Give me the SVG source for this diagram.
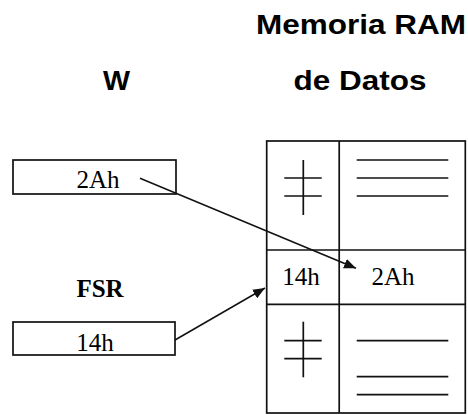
<svg xmlns="http://www.w3.org/2000/svg" width="468" height="415" viewBox="0 0 468 415">
  <style>
    .box { fill: #fff; stroke: #111; stroke-width: 1.7; }
    .rule { stroke: #111; stroke-width: 1.7; fill: none; }
    .head { font-family: "Liberation Sans", Arial, sans-serif; font-weight: bold; font-size: 27px; fill: #000; text-anchor: middle; }
    .reg { font-family: "Liberation Serif", "Times New Roman", serif; font-weight: bold; font-size: 25px; fill: #000; text-anchor: middle; }
    .val { font-family: "Liberation Serif", "Times New Roman", serif; font-size: 25px; fill: #000; text-anchor: middle; }
    .link { stroke: #111; stroke-width: 1.5; fill: none; marker-end: url(#head); }
  </style>
  <defs>
    <marker id="head" viewBox="0 0 12 10" refX="12" refY="5" markerWidth="12" markerHeight="10" markerUnits="userSpaceOnUse" orient="auto">
      <path d="M0,0 L12,5 L0,10 Z" fill="#111"/>
    </marker>
  </defs>
  <rect width="468" height="415" fill="#fff"/>

  <!-- headings -->
  <g id="titles">
    <text class="head" x="361" y="34" textLength="210" lengthAdjust="spacingAndGlyphs">Memoria RAM</text>
    <text class="head" x="360" y="90" textLength="133" lengthAdjust="spacingAndGlyphs">de Datos</text>
    <text class="head" x="116.5" y="90" textLength="27" lengthAdjust="spacingAndGlyphs">W</text>
  </g>

  <!-- W register -->
  <g id="w-reg">
    <rect class="box" x="13" y="160" width="163" height="34"/>
    <text class="val" x="98" y="187.5">2Ah</text>
  </g>

  <!-- FSR register -->
  <g id="fsr-reg">
    <text class="reg" x="100" y="297">FSR</text>
    <rect class="box" x="13" y="322" width="162" height="33"/>
    <text class="val" x="95" y="351">14h</text>
  </g>

  <!-- data memory table -->
  <g id="ram">
    <rect class="box" x="266.7" y="141" width="198.6" height="272"/>
    <line class="rule" x1="339.2" y1="141" x2="339.2" y2="413"/>
    <line class="rule" x1="266.7" y1="250" x2="465.3" y2="250"/>
    <line class="rule" x1="266.7" y1="304.3" x2="465.3" y2="304.3"/>

    <!-- upper cells (elided contents) -->
    <g id="ram-upper">
      <line class="rule" x1="303.3" y1="160" x2="303.3" y2="215"/>
      <line class="rule" x1="284.3" y1="178" x2="321.7" y2="178"/>
      <line class="rule" x1="284.3" y1="196" x2="321.7" y2="196"/>
      <line class="rule" x1="356.7" y1="160" x2="448.3" y2="160"/>
      <line class="rule" x1="356.7" y1="178" x2="448.3" y2="178"/>
      <line class="rule" x1="356.7" y1="196" x2="448.3" y2="196"/>
    </g>

    <!-- addressed cell -->
    <g id="ram-cell">
      <text class="val" x="301" y="285">14h</text>
      <text class="val" x="393" y="285">2Ah</text>
    </g>

    <!-- lower cells (elided contents) -->
    <g id="ram-lower">
      <line class="rule" x1="303.3" y1="321.7" x2="303.3" y2="377.3"/>
      <line class="rule" x1="284.3" y1="340.7" x2="321.7" y2="340.7"/>
      <line class="rule" x1="284.3" y1="358.7" x2="321.7" y2="358.7"/>
      <line class="rule" x1="356.7" y1="340.7" x2="448.3" y2="340.7"/>
      <line class="rule" x1="356.7" y1="376.7" x2="448.3" y2="376.7"/>
      <line class="rule" x1="356.7" y1="394.7" x2="448.3" y2="394.7"/>
    </g>
  </g>

  <!-- connectors -->
  <g id="connectors">
    <line class="link" x1="140" y1="178.3" x2="356" y2="268.3"/>
    <line class="link" x1="175" y1="340" x2="265" y2="288"/>
  </g>
</svg>
